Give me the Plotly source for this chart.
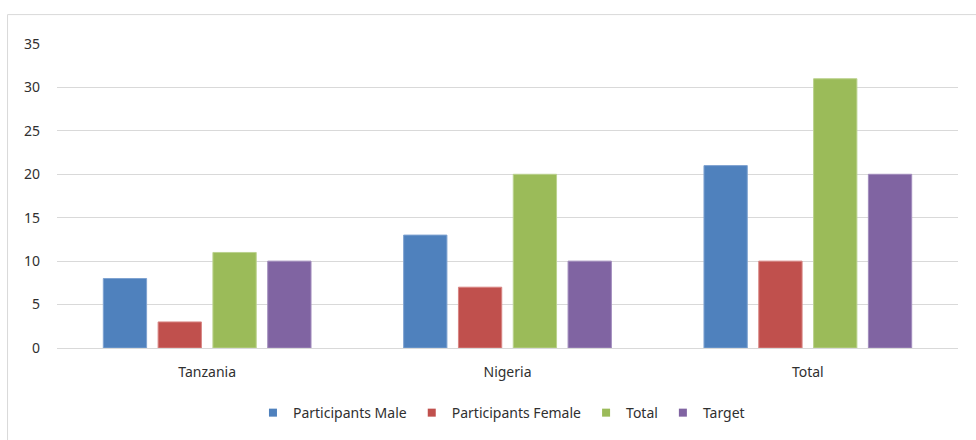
import plotly.graph_objects as go

# Participants by country against the target
countries = ["Tanzania", "Nigeria", "Total"]
participants_male = [8, 13, 21]
participants_female = [3, 7, 10]
total = [11, 20, 31]
target = [10, 10, 20]

series = [
    ("Participants Male", participants_male, "#4F81BD", "#7FA3D1"),
    ("Participants Female", participants_female, "#C0504D", "#D88583"),
    ("Total", total, "#9BBB59", "#BBD28E"),
    ("Target", target, "#8064A2", "#A28DBD"),
]

fig = go.Figure()
for name, vals, color, edge in series:
    fig.add_trace(go.Bar(
        x=countries, y=vals, name=name, legendgroup=name, showlegend=False,
        marker=dict(color=color, line=dict(color=edge, width=1)),
    ))
# small square legend keys, one per series
for name, vals, color, edge in series:
    fig.add_trace(go.Scatter(
        x=[None], y=[None], mode="markers", name=name, legendgroup=name,
        marker=dict(symbol="square", size=8, color=color),
    ))

font_family = "Noto Sans, Open Sans, sans-serif"
text_color = "#303030"

fig.update_layout(
    width=976, height=440,
    margin=dict(l=57, r=18, t=44, b=91),
    paper_bgcolor="white", plot_bgcolor="white",
    barmode="group", bargap=0.27, bargroupgap=0.21,
    font=dict(family=font_family, size=14, color=text_color),
    showlegend=True,
    legend=dict(
        orientation="h", x=0.4933, xanchor="center", y=-0.21, yanchor="middle",
        font=dict(size=14, color=text_color), itemwidth=30, traceorder="normal",
    ),
    xaxis=dict(
        showgrid=False, showline=True, linecolor="#d9d9d9", linewidth=1,
        ticks="", ticklabelstandoff=11, tickfont=dict(size=14, color=text_color),
    ),
    yaxis=dict(
        range=[0, 35], dtick=5, showgrid=True, gridcolor="#d9d9d9", gridwidth=1,
        zeroline=False, showline=False, ticks="", ticklabelstandoff=16,
        tickfont=dict(size=14, color=text_color),
    ),
    shapes=[dict(
        type="rect", xref="paper", yref="paper",
        x0=-0.0549, x1=1.2, y0=-0.6, y1=1.0967,
        line=dict(color="#d9d9d9", width=1), fillcolor="rgba(0,0,0,0)",
        layer="below",
    )],
)

fig.write_html("out.html")
